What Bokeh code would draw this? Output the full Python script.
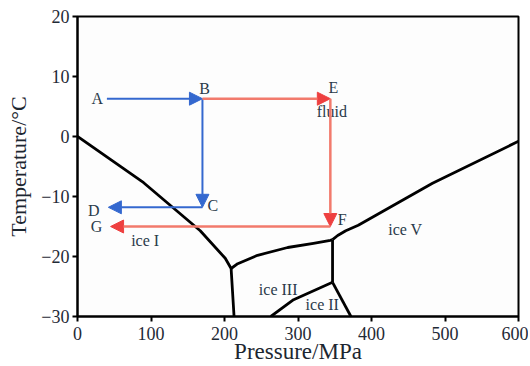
from bokeh.plotting import figure
from bokeh.models import Arrow, NormalHead, Range1d, FixedTicker
from bokeh.embed import file_html
from bokeh.resources import INLINE
from bokeh.core.properties import value

# Phase boundaries (Pressure MPa, Temperature C)
ice1_p = [0, 90, 167, 201, 209, 213]
ice1_t = [0, -7.7, -15.7, -20.3, -22.0, -30]
ice3_liq_p = [209, 218, 245, 286, 321, 344, 347]
ice3_liq_t = [-22.0, -21.2, -19.8, -18.5, -17.8, -17.3, -17.2]
ice5_liq_p = [347, 354, 365, 382, 483, 600]
ice5_liq_t = [-17.2, -16.5, -15.7, -14.8, -7.8, -0.8]
ice3_5_p = [347, 347]
ice3_5_t = [-17.2, -24.3]
ice2_3_p = [263, 294, 347]
ice2_3_t = [-30, -27.2, -24.3]
ice2_5_p = [347, 372]
ice2_5_t = [-24.3, -30]

# Process paths: (x_start, y_start, x_end, y_end)
blue_paths = [(40, 6.3, 170, 6.3), (170, 6.3, 170, -11.8), (170, -11.8, 42, -11.8)]
red_paths = [(170, 6.3, 344, 6.3), (344, 6.3, 344, -15.0), (344, -15.0, 45, -15.0)]

# Point labels
label_text = ["A", "B", "C", "D", "E", "fluid", "F", "G", "ice I", "ice V", "ice III", "ice II"]
label_p = [27, 173, 184, 22, 348, 346, 360, 26, 92, 446, 273, 333]
label_t = [6.3, 8.0, -11.5, -12.3, 8.2, 4.2, -13.8, -15.0, -17.3, -15.5, -25.5, -28.0]

x_ticks = [0, 100, 200, 300, 400, 500, 600]
y_ticks = [-30, -20, -10, 0, 10, 20]

p = figure(width=528, height=366, output_backend="svg", toolbar_location=None,
           x_range=Range1d(0, 600), y_range=Range1d(-30, 20),
           min_border_left=77, min_border_right=10, min_border_top=16, min_border_bottom=50)
p.xgrid.visible = False
p.ygrid.visible = False
p.outline_line_color = "black"
p.outline_line_width = 2
p.background_fill_color = "#fdfdfd"

font = "Liberation Serif"
for ax in (p.xaxis[0], p.yaxis[0]):
    ax.axis_line_width = 2
    ax.axis_line_color = "black"
    ax.major_tick_line_width = 2
    ax.major_tick_line_color = "black"
    ax.major_tick_out = 5
    ax.major_tick_in = 0
    ax.minor_tick_line_color = None
    ax.major_label_text_font = font
    ax.major_label_text_font_size = "18px"
    ax.major_label_text_color = "#1f2a36"
    ax.axis_label_text_font = font
    ax.axis_label_text_font_style = "normal"
    ax.axis_label_text_color = "#1c2630"
p.xaxis.axis_label_text_font_size = "23px"
p.yaxis.axis_label_text_font_size = "22px"
p.xaxis.ticker = FixedTicker(ticks=x_ticks)
p.yaxis.ticker = FixedTicker(ticks=y_ticks)
p.xaxis.axis_label = "Pressure/MPa"
p.yaxis.axis_label = "Temperature/°C"
p.xaxis.major_label_standoff = 5
p.yaxis.major_label_standoff = 3
p.xaxis.axis_label_standoff = -4
p.yaxis.axis_label_standoff = 7

for xs, ys in [(ice1_p, ice1_t), (ice3_liq_p, ice3_liq_t), (ice5_liq_p, ice5_liq_t),
               (ice3_5_p, ice3_5_t), (ice2_3_p, ice2_3_t), (ice2_5_p, ice2_5_t)]:
    p.line(xs, ys, line_color="black", line_width=2.8, line_join="round")

blue = "#3468cf"
red_line = "#f27a6c"
red_head = "#ee4040"
for (x0, y0, x1, y1) in blue_paths:
    p.add_layout(Arrow(end=NormalHead(size=13, fill_color=blue, line_color=blue),
                       x_start=x0, y_start=y0, x_end=x1, y_end=y1,
                       line_color=blue, line_width=2))
for (x0, y0, x1, y1) in red_paths:
    p.add_layout(Arrow(end=NormalHead(size=13, fill_color=red_head, line_color=red_head),
                       x_start=x0, y_start=y0, x_end=x1, y_end=y1,
                       line_color=red_line, line_width=2.5))

p.text(x=label_p, y=label_t, text=label_text, text_font=value(font),
       text_font_size="16px", text_color="#2a3a4a", text_align="center",
       text_baseline="middle")

open("out.html", "w").write(file_html(p, INLINE))
